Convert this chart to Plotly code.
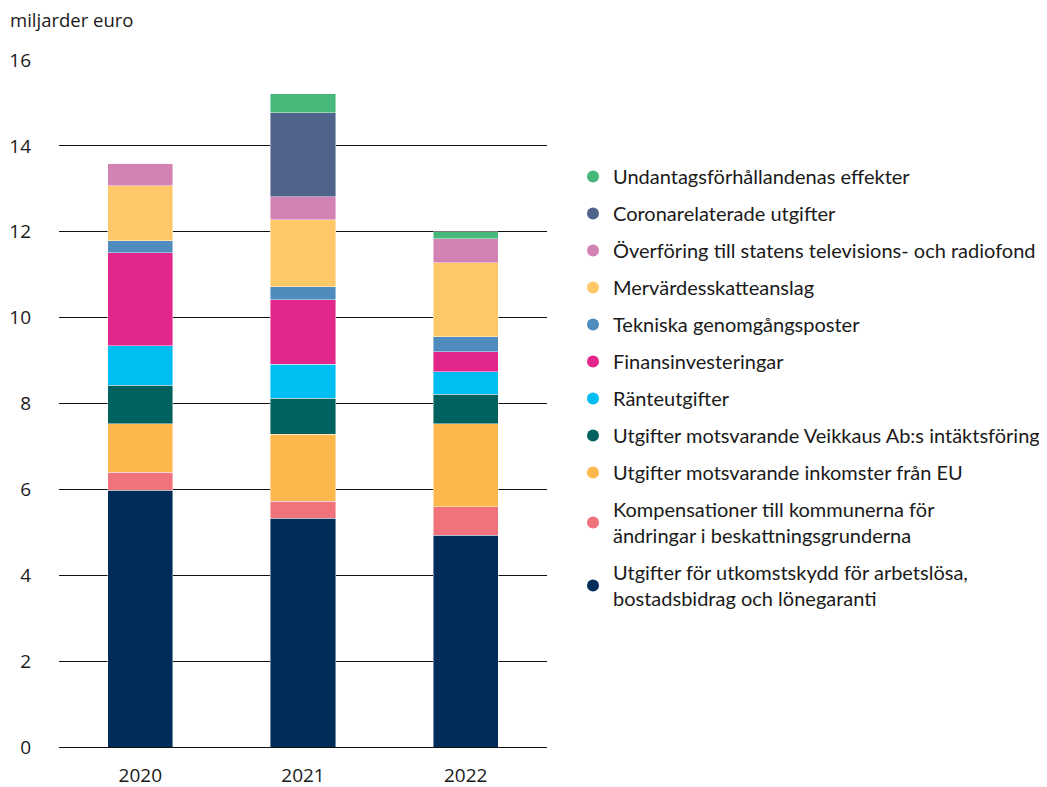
import plotly.graph_objects as go

years = ["2020", "2021", "2022"]

series_names = [
    "Utgifter för utkomstskydd för arbetslösa,<br>bostadsbidrag och lönegaranti",
    "Kompensationer till kommunerna för<br>ändringar i beskattningsgrunderna",
    "Utgifter motsvarande inkomster från EU",
    "Utgifter motsvarande Veikkaus Ab:s intäktsföring",
    "Ränteutgifter",
    "Finansinvesteringar",
    "Tekniska genomgångsposter",
    "Mervärdesskatteanslag",
    "Överföring till statens televisions- och radiofond",
    "Coronarelaterade utgifter",
    "Undantagsförhållandenas effekter",
]

utkomstskydd = [5.98, 5.33, 4.93]
kompensationer = [0.42, 0.39, 0.67]
eu_inkomster = [1.13, 1.56, 1.93]
veikkaus = [0.89, 0.84, 0.68]
ranteutgifter = [0.93, 0.79, 0.53]
finansinvesteringar = [2.16, 1.51, 0.47]
tekniska = [0.28, 0.30, 0.35]
mervardesskatt = [1.28, 1.56, 1.72]
televisionsfond = [0.53, 0.53, 0.56]
corona = [0.0, 1.96, 0.0]
undantag = [0.0, 0.44, 0.16]

series_values = [utkomstskydd, kompensationer, eu_inkomster, veikkaus, ranteutgifter,
                 finansinvesteringar, tekniska, mervardesskatt, televisionsfond, corona, undantag]

colors = ["#002C5A", "#F0727A", "#FDB84D", "#00625F", "#00BDF2", "#E2268C",
          "#4F8BBD", "#FEC868", "#D282B3", "#50638B", "#46B97A"]

y_ticks = [0, 2, 4, 6, 8, 10, 12, 14, 16]

fig = go.Figure()
for i, (name, vals, col) in enumerate(zip(series_names, series_values, colors)):
    fig.add_trace(go.Bar(
        x=years, y=vals, name=name, marker_color=col,
        marker_line=dict(color="rgba(255,255,255,0.55)", width=0.8),
        legendgroup=f"g{i}", showlegend=False,
    ))
# legend entries (top to bottom = top of stack to bottom)
for i in reversed(range(len(series_names))):
    fig.add_trace(go.Scatter(
        x=[None], y=[None], mode="markers", name=series_names[i],
        marker=dict(color=colors[i], size=16, symbol="circle"),
        legendgroup=f"g{i}", showlegend=True,
    ))

# page has an 8px body margin; figure is sized/placed to compensate
W, H = 1039, 779
L, T = 51, 52
plot_w, plot_h = 488, 687
R = W - L - plot_w
B = H - T - plot_h

fig.update_layout(
    width=W, height=H,
    barmode="stack", bargap=0.6,
    plot_bgcolor="white", paper_bgcolor="white",
    margin=dict(l=L, r=R, t=T, b=B, autoexpand=False),
    font=dict(family="Lato, Open Sans, sans-serif", size=19, color="#1a1a1a"),
    xaxis=dict(showgrid=False, showline=False, ticks="", ticklabelstandoff=15,
               tickfont=dict(family="Open Sans, sans-serif", size=19, color="#1a1a1a")),
    yaxis=dict(range=[0, 16], tickvals=y_ticks, showgrid=True, gridcolor="#111111",
               gridwidth=1.3, zeroline=True, zerolinecolor="#111111", zerolinewidth=1.3,
               showline=False, ticks="", ticklabelstandoff=27,
               tickfont=dict(family="Open Sans, sans-serif", size=19, color="#1a1a1a")),
    legend=dict(x=(565 - L) / plot_w, xref="paper",
                y=1 - (149 - T) / plot_h, yanchor="top", traceorder="grouped",
                tracegroupgap=8, itemsizing="constant",
                font=dict(family="Lato, sans-serif", size=20, color="#1a1a1a"),
                bgcolor="rgba(0,0,0,0)"),
    annotations=[dict(text="miljarder euro", xref="paper", yref="paper",
                      x=0, y=1, xshift=-51, yshift=41, xanchor="left", yanchor="middle",
                      showarrow=False,
                      font=dict(family="Open Sans, sans-serif", size=18.5, color="#1a1a1a"))],
)

fig.write_html("out.html")
